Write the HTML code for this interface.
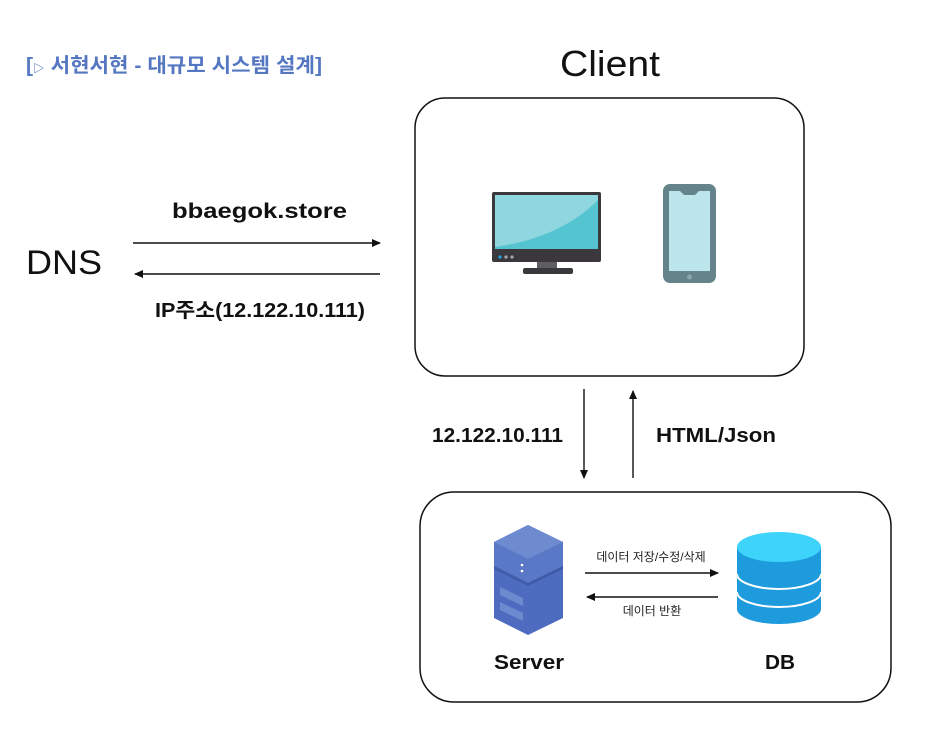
<!DOCTYPE html>
<html><head><meta charset="utf-8"><style>
html,body{margin:0;padding:0;background:#fff;}
svg{display:block;}
text{font-family:"Liberation Sans","Noto Sans CJK KR",sans-serif;}
</style></head><body>
<svg width="947" height="750" viewBox="0 0 947 750" xmlns="http://www.w3.org/2000/svg">
<defs>
<marker id="ah" markerWidth="10" markerHeight="10" refX="8" refY="4" orient="auto" markerUnits="userSpaceOnUse">
<path d="M0,0 L9,4 L0,8 z" fill="#111"/></marker>
</defs>
<text x="26" y="72" font-size="20" font-weight="bold" fill="#5577c2" textLength="296" lengthAdjust="spacingAndGlyphs">[<tspan font-size="11">▷</tspan> 서현서현 - 대규모 시스템 설계]</text>
<text x="560" y="76" font-size="36" fill="#111" textLength="100" lengthAdjust="spacingAndGlyphs">Client</text>
<rect x="415" y="98" width="389" height="278" rx="30" fill="none" stroke="#111" stroke-width="1.5"/>
<!-- monitor -->
<rect x="492" y="192" width="109" height="70" rx="2" fill="#3a383d"/>
<rect x="495" y="195" width="103" height="54" fill="#54c4d0"/>
<path d="M495,195 L598,195 L598,200 Q560,238 495,247 Z" fill="#8fd6de"/>
<circle cx="500" cy="257" r="1.6" fill="#1ba6e0"/><circle cx="506" cy="257" r="1.6" fill="#aaa"/><circle cx="512" cy="257" r="1.6" fill="#aaa"/>
<rect x="537" y="262" width="20" height="7" fill="#5f5f62"/>
<rect x="523" y="268" width="50" height="6" rx="2" fill="#3a383d"/>
<!-- phone -->
<rect x="663" y="184" width="53" height="99" rx="7" fill="#65838a"/>
<path d="M669,191 L680,191 L684,195 L695,195 L699,191 L710,191 L710,271 L669,271 Z" fill="#bde5ec"/>
<circle cx="689.5" cy="277" r="2.5" fill="#8aa6ad"/>
<!-- DNS -->
<text x="26" y="274" font-size="34" fill="#111" textLength="76" lengthAdjust="spacingAndGlyphs">DNS</text>
<text x="172" y="218" font-size="21" font-weight="bold" fill="#111" textLength="175" lengthAdjust="spacingAndGlyphs">bbaegok.store</text>
<line x1="133" y1="243" x2="380" y2="243" stroke="#111" stroke-width="1.4" marker-end="url(#ah)"/>
<line x1="380" y1="274" x2="135" y2="274" stroke="#111" stroke-width="1.4" marker-end="url(#ah)"/>
<text x="155" y="317" font-size="20" font-weight="bold" fill="#111" textLength="210" lengthAdjust="spacingAndGlyphs">IP주소(12.122.10.111)</text>
<!-- vertical -->
<line x1="584" y1="389" x2="584" y2="478" stroke="#111" stroke-width="1.4" marker-end="url(#ah)"/>
<line x1="633" y1="478" x2="633" y2="391" stroke="#111" stroke-width="1.4" marker-end="url(#ah)"/>
<text x="432" y="442" font-size="20" font-weight="bold" fill="#111" textLength="131" lengthAdjust="spacingAndGlyphs">12.122.10.111</text>
<text x="656" y="442" font-size="20" font-weight="bold" fill="#111" textLength="120" lengthAdjust="spacingAndGlyphs">HTML/Json</text>
<!-- server box -->
<rect x="420" y="492" width="471" height="210" rx="34" fill="none" stroke="#111" stroke-width="1.5"/>
<!-- server icon -->
<path d="M494,542 L528,525 L563,542 L563,618 L528,635 L494,618 Z" fill="#4e6cbf"/>
<path d="M494,542 L528,525 L563,542 L528,559 Z" fill="#6e8bd0"/>
<path d="M494,542 L528,559 L563,542 L563,566 L528,583 L494,566 Z" fill="#5a78c8"/>
<path d="M494,566 L528,583 L563,566 L563,569 L528,586 L494,569 Z" fill="#3f5aa8"/>
<circle cx="522" cy="565" r="1.3" fill="#fff"/><circle cx="522" cy="571" r="1.3" fill="#fff"/>
<path d="M500,587 L523,598 L523,606 L500,595 Z" fill="#6d89cf"/>
<path d="M500,602 L523,613 L523,621 L500,610 Z" fill="#6d89cf"/>
<!-- DB -->
<path d="M737,547 L737,609 A42,15 0 0 0 821,609 L821,547 Z" fill="#1d9bdc"/>
<ellipse cx="779" cy="547" rx="42" ry="15" fill="#3dd3fb"/>
<path d="M737,574 A42,15 0 0 0 821,574" fill="none" stroke="#fff" stroke-width="2"/>
<path d="M737,592 A42,15 0 0 0 821,592" fill="none" stroke="#fff" stroke-width="2"/>
<line x1="585" y1="573" x2="718" y2="573" stroke="#111" stroke-width="1.4" marker-end="url(#ah)"/>
<line x1="718" y1="597" x2="587" y2="597" stroke="#111" stroke-width="1.4" marker-end="url(#ah)"/>
<text x="651" y="561" font-size="12" text-anchor="middle" fill="#222">데이터 저장/수정/삭제</text>
<text x="652" y="615" font-size="12" text-anchor="middle" fill="#222">데이터 반환</text>
<text x="494" y="669" font-size="20" font-weight="bold" fill="#111" textLength="70" lengthAdjust="spacingAndGlyphs">Server</text>
<text x="765" y="669" font-size="20" font-weight="bold" fill="#111" textLength="30" lengthAdjust="spacingAndGlyphs">DB</text>
</svg>
</body></html>
